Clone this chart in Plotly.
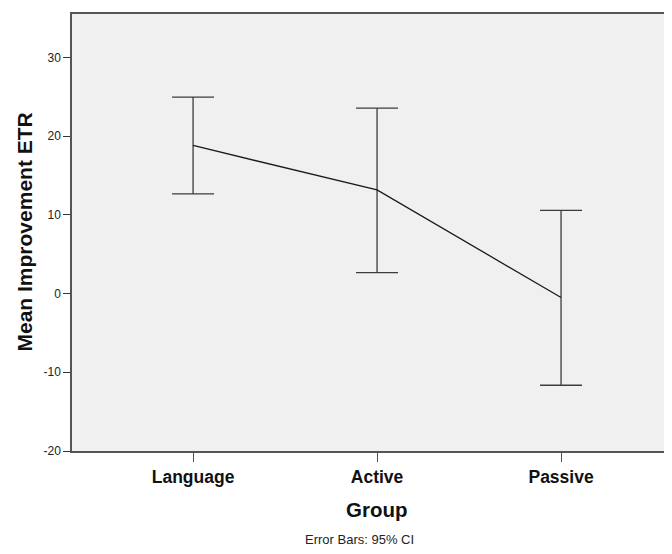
import plotly.graph_objects as go

groups = ["Language", "Active", "Passive"]
means = [18.8, 13.15, -0.5]
ci_upper = [24.95, 23.55, 10.55]
ci_lower = [12.65, 2.65, -11.65]

err_plus = [u - m for u, m in zip(ci_upper, means)]
err_minus = [m - l for m, l in zip(means, ci_lower)]

FONT = "Arial, Liberation Sans, sans-serif"

fig = go.Figure()
fig.add_trace(go.Scatter(
    x=groups, y=means, mode="lines",
    line=dict(color="#1a1a1a", width=1.3),
    error_y=dict(type="data", symmetric=False, array=err_plus, arrayminus=err_minus,
                 color="#3c3c3c", thickness=1.3, width=21),
    showlegend=False, hoverinfo="skip",
))

# page body has an 8px default margin, so the figure is sized to fit the window
fig.update_layout(
    width=664, height=538,
    margin=dict(l=64, r=0, t=6, b=95),
    paper_bgcolor="white", plot_bgcolor="#f0f0f0",
    font=dict(family=FONT, color="#111"),
    xaxis=dict(
        range=[-0.658, 2.603], showgrid=False, zeroline=False,
        showline=True, linecolor="#555", linewidth=1.5, mirror=True,
        ticks="outside", ticklen=9, tickcolor="#555", tickwidth=1.2,
        tickfont=dict(size=17.5, family=FONT, color="#111", weight="bold"),
    ),
    yaxis=dict(
        range=[-20, 35.5], showgrid=False, zeroline=False,
        showline=True, linecolor="#555", linewidth=1.5,
        tickvals=[-20, -10, 0, 10, 20, 30],
        ticktext=["-20", "-10", "0", "10", "20", "30"],
        ticks="outside", ticklen=7, tickcolor="#333", tickwidth=1.2,
        tickfont=dict(size=12, family=FONT, color="#222"),
    ),
    annotations=[
        dict(text="<b>Mean Improvement ETR</b>", xref="paper", yref="paper",
             x=0, y=0.5, xshift=-48, textangle=-90, showarrow=False,
             xanchor="center", yanchor="middle",
             font=dict(size=21, family=FONT, color="#111")),
        dict(text="<b>Group</b>", xref="x", yref="paper", x=1, y=0,
             yshift=-58, showarrow=False, xanchor="center", yanchor="middle",
             font=dict(size=20.5, family=FONT, color="#111")),
        dict(text="Error Bars: 95% CI", xref="x", yref="paper", x=1, y=0,
             yshift=-88, xshift=-18, showarrow=False, xanchor="center", yanchor="middle",
             font=dict(size=13, family=FONT, color="#222")),
    ],
)

fig.write_html("out.html")
